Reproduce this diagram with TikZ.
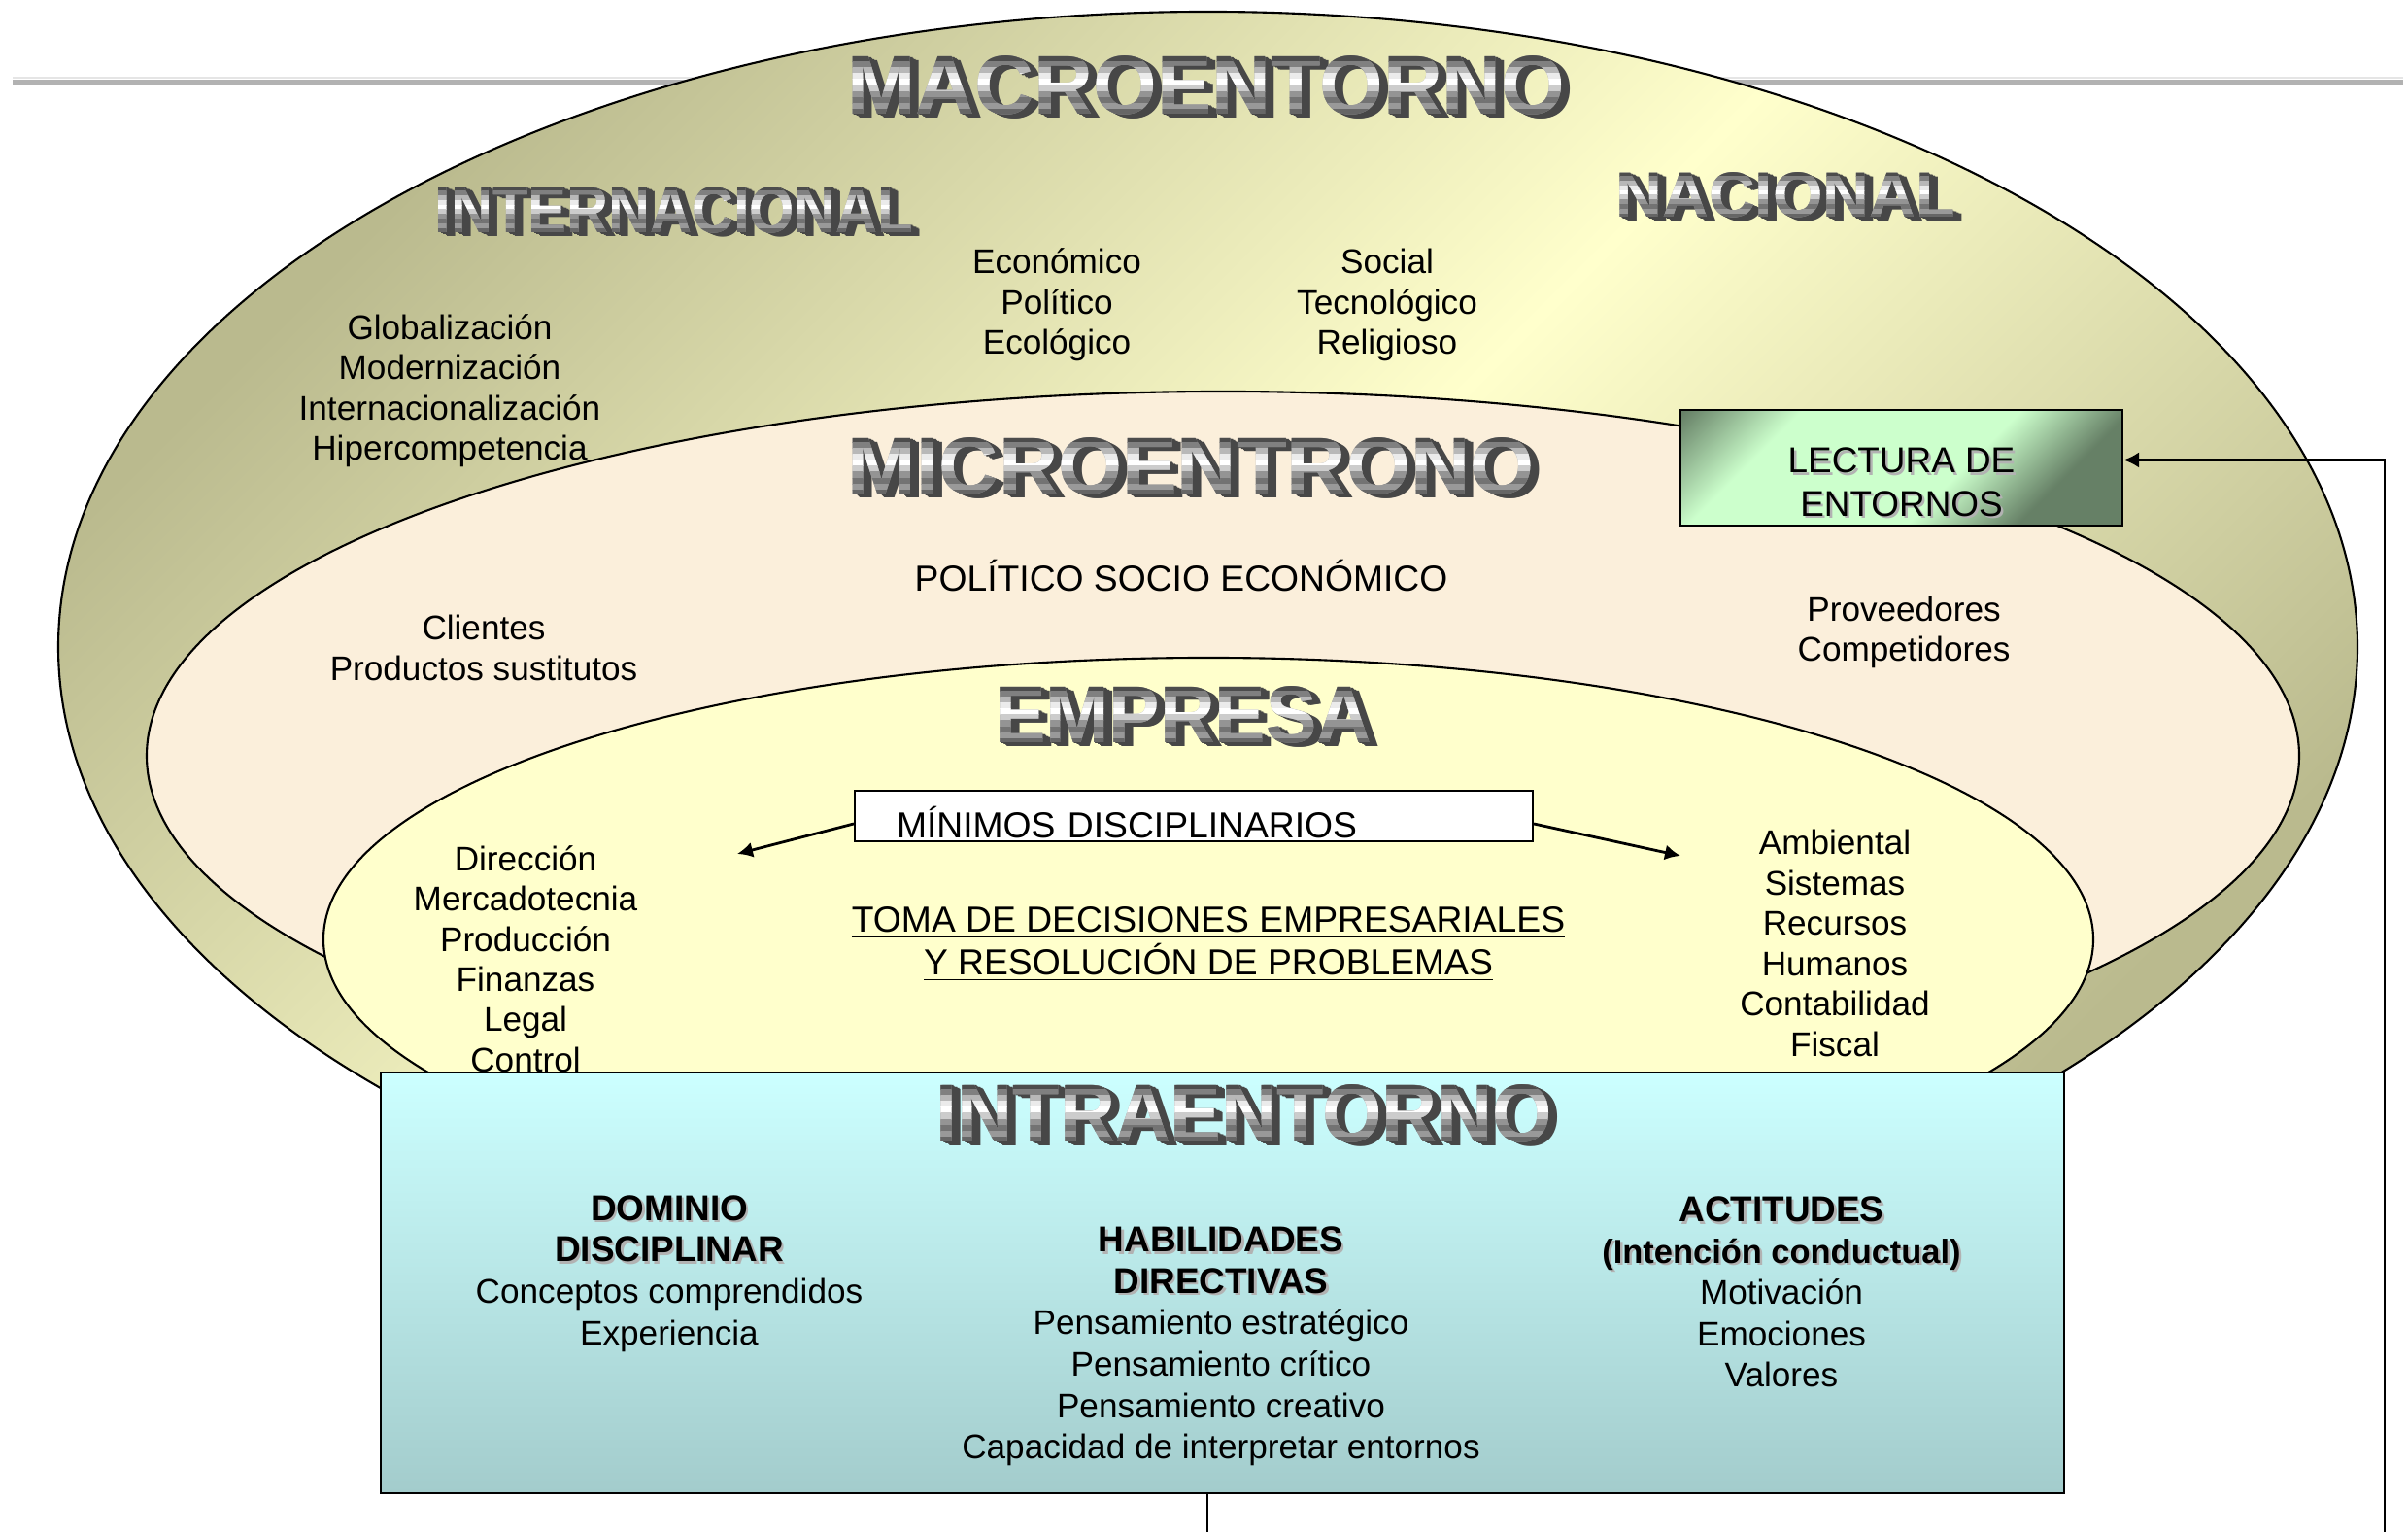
\documentclass[tikz,border=0pt]{standalone}
\usepackage{fontspec}
\setmainfont{Liberation Sans}
\usepackage{graphicx}
\usetikzlibrary{arrows.meta,calc,positioning}

\definecolor{macrodark}{RGB}{186,186,142}
\definecolor{macrolight}{RGB}{255,255,204}
\definecolor{microfill}{RGB}{251,239,219}
\definecolor{empresafill}{RGB}{255,255,204}
\definecolor{intratop}{RGB}{204,255,255}
\definecolor{intrabottom}{RGB}{163,204,204}
\definecolor{lecturadark}{RGB}{102,128,102}
\definecolor{lecturalight}{RGB}{204,255,204}

\pgfdeclareverticalshading{lecturashade}{100bp}{color(0bp)=(lecturadark); color(28bp)=(lecturadark);
  color(42bp)=(lecturalight); color(70bp)=(lecturalight); color(85bp)=(lecturadark); color(100bp)=(lecturadark)}

% metal title: name, position, width, height, text
\newcommand{\artword}[5]{%
  \foreach \k in {6,...,1}
    \node[art, text=black!72, xshift=\k*0.15mm, yshift=-\k*0.07mm] (#1-d\k) at (#2) {\resizebox{#3}{#4}{#5}};
  \node[art, text=black!40] (#1) at (#2) {\resizebox{#3}{#4}{#5}};
  \foreach \col [count=\i from 0] in {black!70,black!50,black!28,black!8,white,black!20,black!42,black!55,black!40,black!60} {
    \begin{scope}
      \clip ($(#1.north west)!{\i/10}!(#1.south west)+(-2pt,0)$) rectangle ($(#1.north east)!{(\i+1)/10}!(#1.south east)+(2pt,0)$);
      \node[art, text=\col] (#1-b\i) at (#2) {\resizebox{#3}{#4}{#5}};
    \end{scope}
  }
}
\newcommand{\shadowed}[1]{\rlap{\kern0.7pt\raisebox{-0.7pt}{\textcolor{black!30}{#1}}}#1}
\newcommand{\intrahead}[2][10.5]{{\fontsize{#1}{12.1}\selectfont\bfseries\shadowed{#2}}}

\begin{document}
\begin{tikzpicture}[>={Latex[length=1.6mm,width=1.6mm]},every node/.style={inner sep=0pt},
  art/.style={font=\bfseries},
  txt/.style={align=center,font=\fontsize{10}{11.8}\selectfont},
  caps/.style={align=center,font=\fontsize{10.6}{12.6}\selectfont},
  intratxt/.style={align=center,font=\fontsize{10}{12.1}\selectfont},
  ring/.style={line width=0.6pt}]

\useasboundingbox (0,0) rectangle (24.79,15.77);

% rule behind the top
\draw[gray!60, line width=1.6pt] (0.13,14.92) -- (24.74,14.92);
\draw[gray!20, line width=0.5pt] (0.13,14.97) -- (24.74,14.97);

% the three rings
\draw[ring, top color=macrodark, bottom color=macrodark, middle color=macrolight, shading angle=45]
  (12.435,9.11) ellipse [x radius=11.835, y radius=6.54];
\draw[ring, fill=microfill] (12.59,7.99) ellipse [x radius=11.08, y radius=3.75];
\draw[ring, fill=empresafill] (12.44,6.10) ellipse [x radius=9.11, y radius=2.90];

\node[draw, ring, minimum width=4.55cm, minimum height=1.19cm,
  shading=lecturashade, shading angle=45] (lectura) at (19.575,10.955) {};
\node[align=center, font=\fontsize{10.5}{12.6}\selectfont] (lectura-text) at ([yshift=-0.16cm]lectura.center)
  {\shadowed{LECTURA DE}\\\shadowed{ENTORNOS}};

\node[draw, ring, minimum width=17.33cm, minimum height=4.33cm,
  top color=intratop, bottom color=intrabottom] (intra) at (12.585,2.565) {};

\node[draw, ring, fill=white, text width=6.12cm, inner xsep=0.43cm, inner ysep=0pt,
  text height=0.49cm, text depth=0.03cm, align=left, font=\fontsize{10.6}{12}\selectfont]
  (minbox) at (12.29,7.37) {MÍNIMOS DISCIPLINARIOS};

% titles
\artword{macro}{12.42,14.89}{7.39cm}{0.60cm}{MACROENTORNO}
\artword{inter}{6.94,13.61}{4.92cm}{0.47cm}{INTERNACIONAL}
\artword{nacional}{18.38,13.76}{3.49cm}{0.46cm}{NACIONAL}
\artword{micro}{12.26,10.97}{7.07cm}{0.58cm}{MICROENTRONO}
\artword{empresa}{12.18,8.41}{3.88cm}{0.58cm}{EMPRESA}
\artword{intraword}{12.81,4.31}{6.34cm}{0.59cm}{INTRAENTORNO}

% macro
\node[txt] (econ) at (10.88,12.63) {Económico\\Político\\Ecológico};
\node[txt] (social) at (14.28,12.63) {Social\\Tecnológico\\Religioso};
\node[txt] (global) at (4.63,11.75) {Globalización\\Modernización\\Internacionalización\\Hipercompetencia};

% micro
\node[caps] (politico) at (12.16,9.84) {POLÍTICO SOCIO ECONÓMICO};
\node[txt] (clientes) at (4.98,9.10) {Clientes\\Productos sustitutos};
\node[txt] (proveedores) at (19.60,9.26) {Proveedores\\Competidores};

% empresa
\node[txt] (areas) at (5.41,5.90) {Dirección\\Mercadotecnia\\Producción\\Finanzas\\Legal\\Control};
\node[txt] (apoyo) at (18.89,6.06) {Ambiental\\Sistemas\\Recursos\\Humanos\\Contabilidad\\Fiscal};
\node[caps] (toma) at (12.44,6.05) {\underline{TOMA DE DECISIONES EMPRESARIALES}\\\underline{Y RESOLUCIÓN DE PROBLEMAS}};

\coordinate (min-left) at (7.59,6.98);
\coordinate (min-right) at (17.30,6.96);
\draw[->, line width=0.8pt] ([yshift=-0.08cm]minbox.west) -- (min-left);
\draw[->, line width=0.8pt] ([yshift=-0.08cm]minbox.east) -- (min-right);

% intra
\node[intratxt] (dominio) at (6.89,2.66) {\intrahead{DOMINIO}\\\intrahead{DISCIPLINAR}\\Conceptos comprendidos\\Experiencia};
\node[intratxt] (habilidades) at (12.57,1.91) {\intrahead{HABILIDADES}\\\intrahead{DIRECTIVAS}\\Pensamiento estratégico\\Pensamiento crítico\\Pensamiento creativo\\Capacidad de interpretar entornos};
\node[intratxt] (actitudes) at (18.34,2.47) {\intrahead{ACTITUDES}\\\intrahead[9.8]{(Intención conductual)}\\Motivación\\Emociones\\Valores};

% feedback
\coordinate (feed-down) at (12.43,-0.5);
\coordinate (feed-right) at (24.55,-0.5);
\draw[->, ring] (intra.south -| feed-down) -- (feed-down) -- (feed-right) |- ([yshift=0.08cm]lectura.east);

\end{tikzpicture}
\end{document}
